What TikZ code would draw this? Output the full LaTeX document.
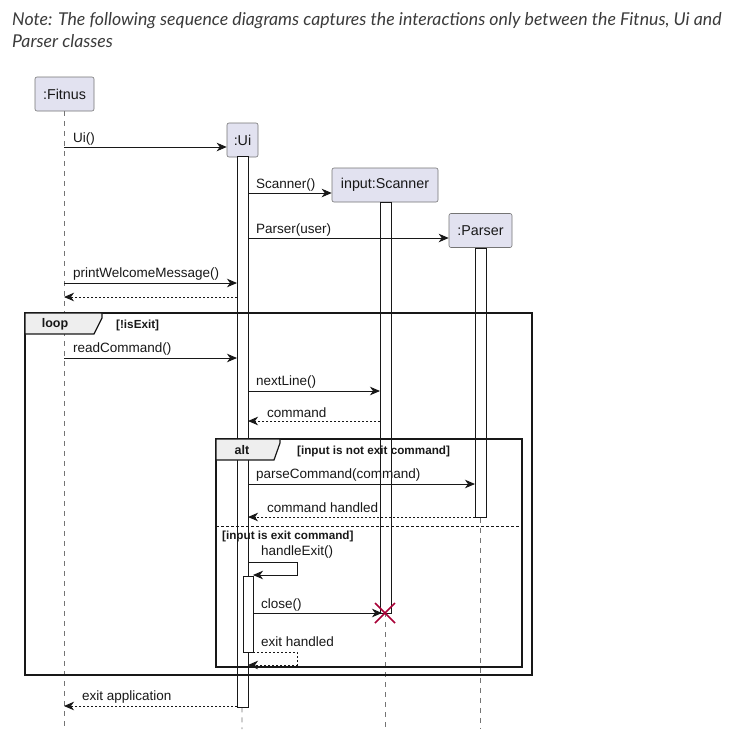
\documentclass[tikz,border=0pt]{standalone}
\usepackage{fontspec}
\setmainfont{Liberation Sans}
\newfontfamily\notefont{Lato}
\usetikzlibrary{arrows.meta}
\definecolor{pfill}{HTML}{E2E2F0}
\definecolor{ink}{HTML}{181818}
\definecolor{tabfill}{HTML}{EEEEEE}
\definecolor{killred}{HTML}{A80036}
\begin{document}
\begin{tikzpicture}[x=1pt,y=-1pt,
  participant/.style={draw=ink!60, fill=pfill, rounded corners=2pt, line width=0.6pt,
    inner sep=0pt, minimum height=34pt, font=\fontsize{14.3}{16}\selectfont, text=ink},
  lifeline/.style={draw=ink!60, line width=0.6pt, dash pattern=on 5pt off 5pt},
  actbar/.style={draw=ink, fill=white, line width=0.8pt},
  msg/.style={draw=ink, line width=0.9pt, -{Stealth[length=10pt,width=8.5pt,inset=3pt]}},
  ret/.style={msg, dash pattern=on 2pt off 2pt},
  lbl/.style={anchor=base west, font=\fontsize{13.5}{15}\selectfont, inner sep=0pt, text=ink},
  framebox/.style={draw=ink, line width=1.5pt},
  tabshape/.style={draw=ink, fill=tabfill, line width=1.2pt, line join=miter},
  tabtext/.style={font=\bfseries\fontsize{12.5}{14}\selectfont, inner sep=0pt, text=ink},
  guard/.style={font=\bfseries\fontsize{11.7}{13}\selectfont, anchor=base west, inner sep=0pt, text=ink},
]
\useasboundingbox (0,0) rectangle (753,729);

% heading note
\node[anchor=base west, inner sep=0pt, align=left,
      font=\notefont\itshape\fontsize{17.7}{22}\selectfont, text=ink!85] (note) at (12,47)
  {Note: The following sequence diagrams captures the interactions only between the Fitnus, Ui and\\Parser classes};

% participants
\node[participant, minimum width=59pt] (fitnus) at (64.5,94) {:Fitnus};
\node[participant, minimum width=31pt] (ui) at (242.5,140) {:Ui};
\node[participant, minimum width=106pt] (scanner) at (385,185) {input:Scanner};
\node[participant, minimum width=63pt] (parser) at (480.5,230.5) {:Parser};

% lifelines
\coordinate (fitnusEnd) at (64,729);
\coordinate (uiEnd) at (242,729);
\coordinate (scannerEnd) at (385,729);
\coordinate (parserEnd) at (480.5,729);
\draw[lifeline] (fitnus.south -| 64,0) -- (fitnusEnd);
\draw[lifeline] (ui.south) -- (uiEnd);
\draw[lifeline] (scanner.south) -- (scannerEnd);
\draw[lifeline] (parser.south) -- (parserEnd);

% activation bars
\draw[actbar] (237,156) rectangle (248,707);
\draw[actbar] (380,202) rectangle (391,613);
\draw[actbar] (475,248) rectangle (486,517);
\draw[actbar] (243,576) rectangle (253,652);

% combined fragments
\draw[framebox] (25,313) rectangle (532,675);
\draw[tabshape] (25,313) -- (102,313) -- (102,318) -- (94,334) -- (25,334) -- cycle;
\node[tabtext] (looptag) at (55,324) {loop};
\node[guard] (loopguard) at (116,328.5) {[!isExit]};

\draw[framebox] (216,439) rectangle (522,667);
\draw[tabshape] (216,439) -- (280,439) -- (280,443) -- (274,460) -- (216,460) -- cycle;
\node[tabtext] (alttag) at (242,450) {alt};
\node[guard] (altguard1) at (297,454.5) {[input is not exit command]};
\draw[draw=ink, line width=0.8pt, dash pattern=on 3pt off 2pt] (216,526) -- (522,526);
\node[guard] (altguard2) at (222,539) {[input is exit command]};

% messages
\draw[msg] (64,147) -- (ui.west |- 0,147);
\node[lbl] (m1) at (73,142) {Ui()};
\draw[msg] (248,193) -- (scanner.west |- 0,193);
\node[lbl] (m2) at (256,188) {Scanner()};
\draw[msg] (248,238) -- (parser.west |- 0,238);
\node[lbl] (m3) at (256,233) {Parser(user)};
\draw[msg] (64,283) -- (237,283);
\node[lbl] (m4) at (73,277) {printWelcomeMessage()};
\draw[ret] (237,297) -- (64,297);
\draw[msg] (64,358) -- (237,358);
\node[lbl] (m5) at (73,352) {readCommand()};
\draw[msg] (248,391) -- (380,391);
\node[lbl] (m6) at (256,385) {nextLine()};
\draw[ret] (380,421) -- (248,421);
\node[lbl] (m7) at (267,417) {command};
\draw[msg] (248,484) -- (475,484);
\node[lbl] (m8) at (256,478) {parseCommand(command)};
\draw[ret] (475,517) -- (248,517);
\node[lbl] (m9) at (267,512) {command handled};
\draw[msg] (248,562) -- (297,562) -- (297,575) -- (253,575);
\node[lbl] (m10) at (261,555) {handleExit()};
\draw[msg] (253,613) -- (382,613);
\node[lbl] (m11) at (261,608) {close()};
\draw[ret] (253,652) -- (297,652) -- (297,665) -- (248,665);
\node[lbl] (m12) at (261,646) {exit handled};
\draw[ret] (237,706) -- (64,706);
\node[lbl] (m13) at (82,700) {exit application};

% destruction of the scanner
\coordinate (kill) at (385,613);
\draw[killred, line width=1.6pt] ([shift={(-10,-10)}]kill) -- ([shift={(10,10)}]kill)
  ([shift={(-10,10)}]kill) -- ([shift={(10,-10)}]kill);
\end{tikzpicture}
\end{document}
